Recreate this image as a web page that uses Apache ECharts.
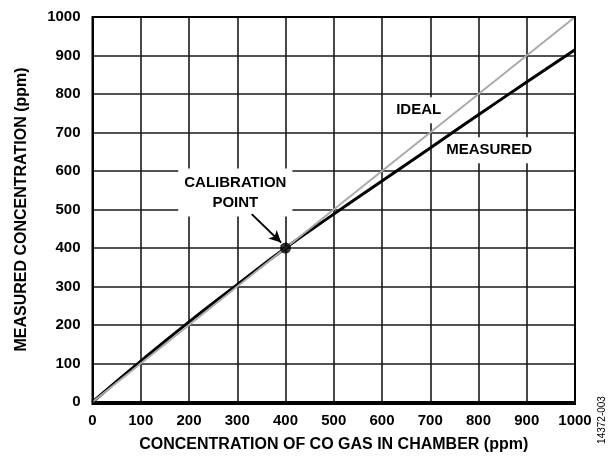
<!DOCTYPE html>
<html><head><meta charset="utf-8">
<script src="https://cdn.jsdelivr.net/npm/echarts@6/dist/echarts.min.js"></script>
<style>html,body{margin:0;padding:0;background:#fff}#c{width:613px;height:458px}</style>
</head><body><div id="c"></div>
<script>
const xTicks = [0,100,200,300,400,500,600,700,800,900,1000];
const yTicks = [0,100,200,300,400,500,600,700,800,900,1000];
const idealLine = [[0,0],[1000,1000]];
const measuredLine = [[0,0],[100,106],[200,208],[300,305],[400,400],[500,488],[600,574],[700,660],[800,746],[900,831],[1000,915]];
const calibrationPoint = [[400,400]];
const labelIdeal = {text:'IDEAL', at:[676,758]};
const labelMeasured = {text:'MEASURED', at:[822,654]};
const labelCal = {text:'CALIBRATION\nPOINT', at:[296,544]};
const arrowFrom = [330,488];
const arrowTo = [391,414];
const FONT = '"Liberation Sans", Arial, sans-serif';

const chart = echarts.init(document.getElementById('c'), null, {renderer:'canvas'});
const textStyle = {fontFamily:FONT, fontWeight:'bold', color:'#000', fontSize:15};
const nameStyle = {fontFamily:FONT, fontWeight:'bold', color:'#000', fontSize:16};
chart.setOption({
  animation:false,
  grid:{left:92.5, right:38, top:17, bottom:54},
  xAxis:{type:'value', min:0, max:1000, interval:100,
    name:'CONCENTRATION OF CO GAS IN CHAMBER (ppm)', nameLocation:'middle', nameGap:35,
    nameTextStyle:nameStyle,
    axisLine:{show:true, lineStyle:{color:'#000', width:2}}, axisTick:{show:false},
    axisLabel:Object.assign({margin:11, formatter:v=>String(v)}, textStyle),
    splitLine:{show:true, lineStyle:{color:'#1a1a1a', width:1.6}}},
  yAxis:{type:'value', min:0, max:1000, interval:100,
    name:'MEASURED CONCENTRATION (ppm)', nameLocation:'middle', nameGap:63,
    nameTextStyle:nameStyle,
    axisLine:{show:true, lineStyle:{color:'#000', width:2}}, axisTick:{show:false},
    axisLabel:Object.assign({margin:12, formatter:v=>String(v)}, textStyle),
    splitLine:{show:true, lineStyle:{color:'#1a1a1a', width:1.6}}},
  series:[
    {type:'line', data:measuredLine, smooth:true, showSymbol:false, z:4,
      lineStyle:{color:'#000', width:3}},
    {type:'line', data:idealLine, showSymbol:false, z:5,
      lineStyle:{color:'#aaa', width:2}},
    {type:'line', data:[], z:6, markLine:{silent:true, symbol:['none','arrow'], symbolSize:[9,12],
      lineStyle:{color:'#000', width:2, type:'solid'}, label:{show:false},
      data:[[{coord:arrowFrom},{coord:arrowTo}]]}},
    {type:'scatter', data:calibrationPoint, symbolSize:11, z:7, itemStyle:{color:'#000'}}
  ]
});
function lbl(l, pad){
  const p = chart.convertToPixel({gridIndex:0}, l.at);
  return {type:'text', x:p[0], y:p[1], z:3, silent:true,
    style:{text:l.text, fontFamily:FONT, fontWeight:'bold', fontSize:15, fill:'#000',
      align:'center', verticalAlign:'middle', lineHeight:20,
      backgroundColor:'#fff', padding:pad}};
}
chart.setOption({graphic:[
  lbl(labelCal, [4,6,4,6]),
  lbl(labelIdeal, [3,4,3,4]),
  lbl(labelMeasured, [3,5,3,5]),
  {type:'rect', shape:{x:92.5, y:17, width:482.5, height:387}, style:{fill:'none', stroke:'#000', lineWidth:2}, z:10, silent:true},
  {type:'text', x:602, y:420, rotation:Math.PI/2, style:{text:'14372-003', fontFamily:FONT, fontSize:10, fill:'#000', align:'center', verticalAlign:'middle'}}
]});
</script></body></html>
